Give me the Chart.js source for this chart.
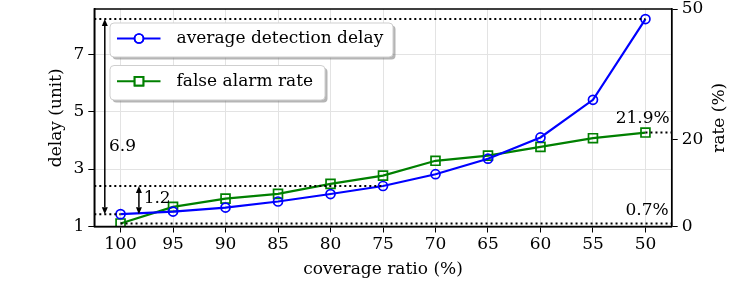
<!DOCTYPE html>
<html>
<head>
<meta charset="utf-8">
<script src="https://cdn.jsdelivr.net/npm/chart.js@4.4.1/dist/chart.umd.min.js"></script>
<style>
  html, body { margin: 0; padding: 0; background: #fff; }
  #wrap { width: 747px; height: 292px; }
</style>
</head>
<body>
<div id="wrap"><canvas id="chart" width="747" height="292"></canvas></div>
<script>
const coverage = ["100", "95", "90", "85", "80", "75", "70", "65", "60", "55", "50"];
const delayValues = [1.43, 1.52, 1.66, 1.87, 2.13, 2.41, 2.82, 3.36, 4.10, 5.41, 8.22];
const rateValues = [0.7, 4.5, 6.4, 7.5, 9.8, 11.7, 15.1, 16.3, 18.3, 20.3, 21.6];
const delayTicks = [1, 3, 5, 7];
const rateTicks = [0, 20, 50];
const gapLabels = ["6.9", "1.2"];
const rateLabels = ["0.7%", "21.9%"];

const FONT = "'DejaVu Serif', serif";
const tickFont = { family: FONT, size: 17 };

function arrow(ctx, x, yTop, yBottom) {
  const head = 7, half = 3;
  ctx.beginPath();
  ctx.moveTo(x, yTop + head);
  ctx.lineTo(x, yBottom - head);
  ctx.stroke();
  ctx.beginPath();
  ctx.moveTo(x, yTop);
  ctx.lineTo(x - half, yTop + head);
  ctx.lineTo(x + half, yTop + head);
  ctx.closePath();
  ctx.fill();
  ctx.beginPath();
  ctx.moveTo(x, yBottom);
  ctx.lineTo(x - half, yBottom - head);
  ctx.lineTo(x + half, yBottom - head);
  ctx.closePath();
  ctx.fill();
}

function roundRect(ctx, x, y, w, h, r) {
  ctx.beginPath();
  ctx.moveTo(x + r, y);
  ctx.lineTo(x + w - r, y);
  ctx.quadraticCurveTo(x + w, y, x + w, y + r);
  ctx.lineTo(x + w, y + h - r);
  ctx.quadraticCurveTo(x + w, y + h, x + w - r, y + h);
  ctx.lineTo(x + r, y + h);
  ctx.quadraticCurveTo(x, y + h, x, y + h - r);
  ctx.lineTo(x, y + r);
  ctx.quadraticCurveTo(x, y, x + r, y);
  ctx.closePath();
}

const annotatePlugin = {
  id: "annotate",
  afterDatasetsDraw(chart) {
    const { ctx, chartArea: a, scales: { x, y, y1 } } = chart;
    const px = (i) => x.getPixelForValue(i);
    const step = px(1) - px(0);
    const last = coverage.length - 1;
    const yTop = y.getPixelForValue(delayValues[last]);
    const yMid = y.getPixelForValue(delayValues[5]);
    const yLow = y.getPixelForValue(delayValues[0]);

    ctx.save();
    ctx.strokeStyle = "#000";
    ctx.fillStyle = "#000";
    ctx.lineWidth = 2;
    ctx.setLineDash([2, 3]);
    const hline = (yy, x0, x1) => {
      ctx.beginPath();
      ctx.moveTo(x0, yy);
      ctx.lineTo(x1, yy);
      ctx.stroke();
    };
    hline(yTop, a.left, px(last));
    hline(yMid, a.left, px(5));
    hline(yLow, a.left, px(0));
    hline(y1.getPixelForValue(rateValues[0]), px(0), a.right);
    hline(y1.getPixelForValue(rateValues[last]), px(last), a.right);
    ctx.setLineDash([]);

    ctx.lineWidth = 1.5;
    arrow(ctx, px(0) - 0.3 * step, yTop, yLow);
    arrow(ctx, px(0) + 0.35 * step, yMid, yLow);

    ctx.font = "17px " + FONT;
    ctx.textBaseline = "middle";
    ctx.textAlign = "left";
    ctx.fillText(gapLabels[0], px(0) - 0.22 * step, (yTop + yLow) / 2 + 30);
    ctx.fillText(gapLabels[1], px(0) + 0.44 * step, (yMid + yLow) / 2 - 1);
    ctx.textAlign = "right";
    ctx.fillText(rateLabels[0], a.right - 3, y1.getPixelForValue(rateValues[0]) - 13);
    ctx.fillText(rateLabels[1], a.right - 2, y1.getPixelForValue(rateValues[last]) - 14);
    ctx.restore();
  },
  afterDraw(chart) {
    const { ctx, chartArea: a } = chart;
    ctx.save();
    ctx.strokeStyle = "#000";
    ctx.lineWidth = 1.5;
    ctx.strokeRect(a.left, a.top, a.right - a.left, a.bottom - a.top);

    // legend boxes
    const boxes = [
      { x: 110, y: 23, w: 283, h: 34 },
      { x: 110, y: 65.5, w: 215, h: 34.5 },
    ];
    chart.data.datasets.forEach((ds, i) => {
      const b = boxes[i];
      ctx.fillStyle = "rgba(120,120,120,0.55)";
      roundRect(ctx, b.x + 2.5, b.y + 2.5, b.w, b.h, 4);
      ctx.fill();
      ctx.fillStyle = "#fff";
      ctx.strokeStyle = "#cfcfcf";
      ctx.lineWidth = 1;
      roundRect(ctx, b.x, b.y, b.w, b.h, 4);
      ctx.fill();
      ctx.stroke();
      const cy = b.y + b.h / 2 - 1.5;
      ctx.strokeStyle = ds.borderColor;
      ctx.lineWidth = 2.2;
      ctx.beginPath();
      ctx.moveTo(b.x + 7, cy);
      ctx.lineTo(b.x + 50.5, cy);
      ctx.stroke();
      ctx.lineWidth = ds.pointBorderWidth;
      Chart.helpers.drawPoint(ctx, {
        pointStyle: ds.pointStyle,
        radius: ds.pointRadius,
        borderWidth: ds.pointBorderWidth,
      }, b.x + 29, cy);
      ctx.stroke();
      ctx.fillStyle = "#000";
      ctx.font = "17px " + FONT;
      ctx.textAlign = "left";
      ctx.textBaseline = "middle";
      ctx.fillText(ds.label, 176.5, cy);
    });

    // right axis title, read bottom-to-top
    ctx.save();
    ctx.translate(720, (a.top + a.bottom) / 2);
    ctx.rotate(-Math.PI / 2);
    ctx.fillStyle = "#000";
    ctx.font = "17px " + FONT;
    ctx.textAlign = "center";
    ctx.textBaseline = "middle";
    ctx.fillText("rate (%)", 0, 0);
    ctx.restore();
    ctx.restore();
  },
};

function fitY(width) {
  return (s) => {
    s.width = width;
    s.paddingTop = 0;
    s.paddingBottom = 0;
  };
}

new Chart(document.getElementById("chart"), {
  type: "line",
  data: {
    labels: coverage,
    datasets: [
      {
        label: "average detection delay",
        data: delayValues,
        yAxisID: "y",
        borderColor: "#0000ff",
        backgroundColor: "rgba(0,0,0,0)",
        pointBackgroundColor: "rgba(0,0,0,0)",
        pointBorderColor: "#0000ff",
        pointStyle: "circle",
        pointRadius: 4.5,
        pointBorderWidth: 1.7,
        borderWidth: 2.2,
        tension: 0,
      },
      {
        label: "false alarm rate",
        data: rateValues,
        yAxisID: "y1",
        borderColor: "#008000",
        backgroundColor: "rgba(0,0,0,0)",
        pointBackgroundColor: "rgba(0,0,0,0)",
        pointBorderColor: "#008000",
        pointStyle: "rect",
        pointRadius: 6.3,
        pointBorderWidth: 1.7,
        borderWidth: 2.2,
        tension: 0,
      },
    ],
  },
  options: {
    responsive: false,
    animation: false,
    devicePixelRatio: 1,
    layout: { autoPadding: false, padding: { top: 9, left: 0, right: 0, bottom: 0 } },
    plugins: {
      legend: { display: false },
      tooltip: { enabled: false },
    },
    scales: {
      x: {
        type: "category",
        offset: true,
        grid: { color: "#e3e3e3", lineWidth: 1, tickColor: "#000", tickLength: 6, offset: false },
        border: { color: "#000", width: 1.5 },
        ticks: { font: tickFont, color: "#000", padding: 2, maxRotation: 0, autoSkip: false },
        title: {
          display: true,
          text: "coverage ratio (%)",
          font: { family: FONT, size: 17 },
          color: "#000",
          padding: { top: 0, bottom: 12.5 },
        },
        afterFit: (s) => {
          s.height = 65.5;
          s.paddingLeft = 0;
          s.paddingRight = 0;
        },
      },
      y: {
        position: "left",
        min: 1,
        max: 8.57,
        grid: { color: "#e3e3e3", lineWidth: 1, tickColor: "#000", tickLength: 6 },
        border: { color: "#000", width: 1.5 },
        ticks: { font: tickFont, color: "#000", padding: 4, includeBounds: false },
        afterBuildTicks: (s) => { s.ticks = delayTicks.map((v) => ({ value: v })); },
        title: {
          display: true,
          text: "delay (unit)",
          font: { family: FONT, size: 17 },
          color: "#000",
          padding: { top: 46.5, bottom: 0 },
        },
        afterFit: fitY(94.3),
      },
      y1: {
        position: "right",
        min: 0,
        max: 50,
        grid: { drawOnChartArea: false, tickColor: "#000", tickLength: 6 },
        border: { color: "#000", width: 1.5 },
        ticks: { font: tickFont, color: "#000", padding: 4, includeBounds: false },
        afterBuildTicks: (s) => { s.ticks = rateTicks.map((v) => ({ value: v })); },
        afterFit: fitY(75.3),
      },
    },
  },
  plugins: [annotatePlugin],
});
</script>
</body>
</html>
